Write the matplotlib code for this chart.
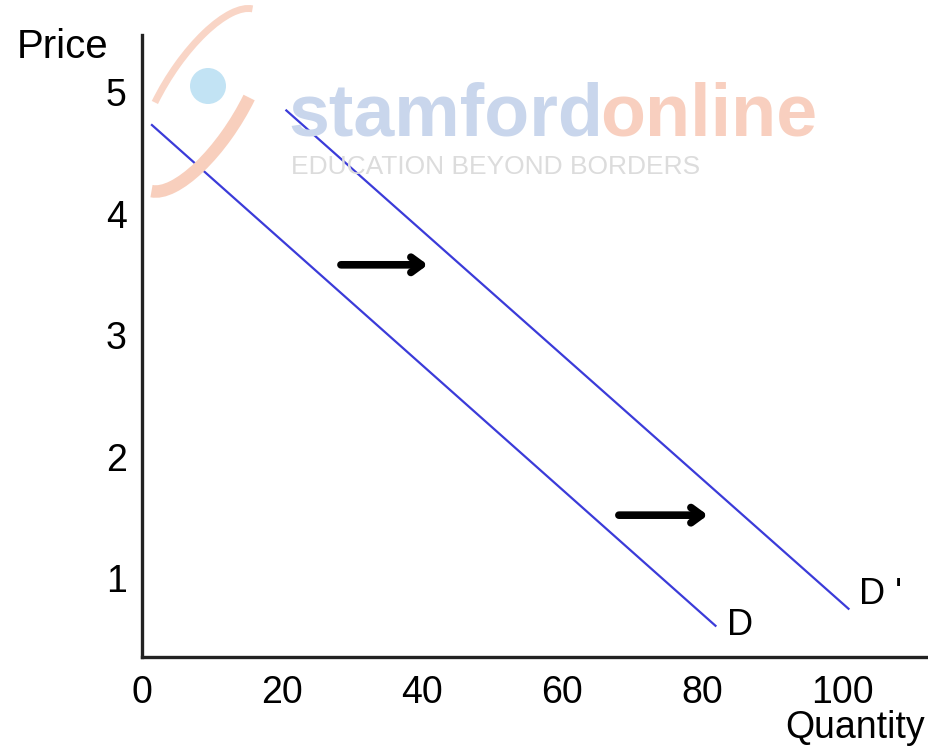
import matplotlib.pyplot as plt
from matplotlib.patches import Arc, Circle

plt.rcParams['font.family'] = ['Liberation Sans', 'DejaVu Sans']

# demand curves (quantity, price) end points
d_qty = [1.4, 81.9]
d_price = [4.73, 0.61]
d2_qty = [20.6, 100.9]
d2_price = [4.85, 0.75]

# shift arrows
arrow_start = [(28.4, 3.58), (68.1, 1.52)]
arrow_end = [(40.8, 3.58), (80.8, 1.52)]

xticks = [0, 20, 40, 60, 80, 100]
yticks = [1, 2, 3, 4, 5]

W, H = 929, 747
fig = plt.figure(figsize=(W / 100, H / 100), dpi=100)

# faint watermark behind the chart (positions in inches)
inch = fig.dpi_scale_trans
fig.patches.append(Arc((2.02, 6.47), 2.1, 0.8, angle=58, theta1=3, theta2=125,
                       transform=inch, color='#f9d5c6', lw=5, zorder=0))
fig.patches.append(Arc((2.02, 6.47), 2.1, 0.8, angle=58, theta1=183, theta2=305,
                       transform=inch, color='#f8cfbd', lw=9, zorder=0))
fig.patches.append(Circle((2.08, 6.61), 0.18, transform=inch,
                          fc='#c2e3f4', ec='none', zorder=0))
fig.text(288 / W, 1 - 136 / H, 'stamford', color='#c9d6ec', fontsize=53,
         fontweight='bold', zorder=0)
fig.text(600 / W, 1 - 136 / H, 'online', color='#f8cfbf', fontsize=53,
         fontweight='bold', zorder=0)
fig.text(291 / W, 1 - 174 / H, 'EDUCATION BEYOND BORDERS', color='#dcdcdc',
         fontsize=19, zorder=0)

ax = fig.add_axes([0.153, 0.12, 0.847, 0.833])
ax.patch.set_alpha(0)

ax.plot(d_qty, d_price, color='#3b3bd9', lw=1.6)
ax.plot(d2_qty, d2_price, color='#3b3bd9', lw=1.6)

for s, e in zip(arrow_start, arrow_end):
    ax.annotate('', xy=e, xytext=s,
                arrowprops=dict(arrowstyle='->, head_length=0.75, head_width=0.55',
                                lw=5.5, color='black', shrinkA=0, shrinkB=0))

ax.text(d_qty[1] + 1.7, d_price[1], 'D', fontsize=26, va='center', ha='left')
ax.text(d2_qty[1] + 1.5, d2_price[1] + 0.12, "D '", fontsize=26, va='center', ha='left')

ax.set_xlim(0, 112.4)
ax.set_ylim(0.35, 5.47)
ax.set_xticks(xticks)
ax.set_yticks(yticks)
ax.tick_params(length=0, labelsize=27, pad=13)
ax.tick_params(axis='y', pad=11)

for side in ['top', 'right']:
    ax.spines[side].set_visible(False)
for side in ['left', 'bottom']:
    ax.spines[side].set_linewidth(2.4)
    ax.spines[side].set_color('#222222')

fig.text(0.018, 0.937, 'Price', fontsize=29, va='center')
fig.text(0.996, 0.026, 'Quantity', fontsize=27, va='center', ha='right')

fig.savefig('out.png', dpi=100)
